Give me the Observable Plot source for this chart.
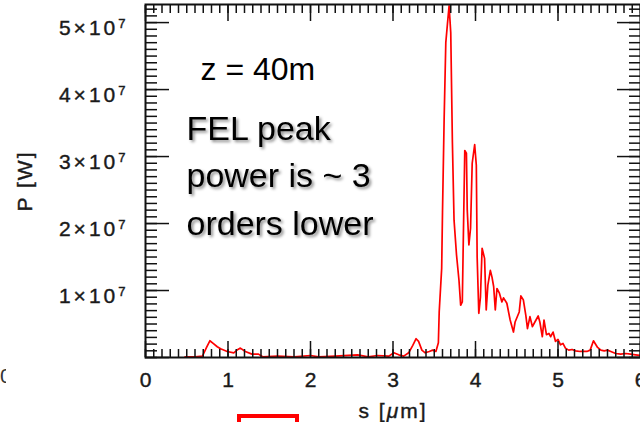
<!DOCTYPE html>
<html><head><meta charset="utf-8">
<script src="https://cdn.jsdelivr.net/npm/d3@7"></script>
<script src="https://cdn.jsdelivr.net/npm/@observablehq/plot@0.6"></script>
<style>
body{margin:0;background:#fff;}
#wrap{position:relative;width:640px;height:422px;overflow:hidden;font-family:"Liberation Sans",Arial,sans-serif;}
.redbox{position:absolute;left:237px;top:414px;width:54px;height:20px;border:4px solid #f00;}
.stray{position:absolute;left:0;top:364px;width:6px;overflow:hidden;font-size:21px;color:#333;}
</style></head><body><div id="wrap"><div class="stray">0</div><div class="redbox"></div></div>
<script>
// s [um]
const sVals = [0.48,0.60,0.69,0.74,0.78,0.82,0.87,0.91,0.99,1.07,1.12,1.15,1.21,1.29,1.37,1.42,1.60,1.80,2.00,2.10,2.30,2.57,2.70,2.81,2.95,3.01,3.07,3.13,3.19,3.24,3.28,3.31,3.35,3.39,3.44,3.48,3.52,3.55,3.56,3.59,3.60,3.62,3.64,3.66,3.68,3.70,3.72,3.74,3.77,3.80,3.82,3.84,3.87,3.89,3.90,3.92,3.94,3.96,3.99,4.01,4.02,4.04,4.06,4.08,4.11,4.13,4.15,4.18,4.20,4.22,4.24,4.26,4.29,4.32,4.34,4.38,4.42,4.46,4.48,4.53,4.55,4.58,4.61,4.63,4.66,4.69,4.72,4.76,4.78,4.81,4.83,4.86,4.89,4.91,4.94,4.97,5.00,5.03,5.06,5.09,5.13,5.17,5.21,5.27,5.35,5.39,5.43,5.45,5.48,5.52,5.56,5.60,5.64,5.70,5.76,5.82,5.88,5.94,6.00];
// P in units of 1e7 W
const pVals = [0.01,0.01,0.02,0.15,0.25,0.21,0.16,0.13,0.09,0.07,0.12,0.14,0.09,0.05,0.05,0.01,0.02,0.01,0.03,0.01,0.02,0.04,0.01,0.03,0.02,0.07,0.04,0.02,0.07,0.18,0.28,0.24,0.11,0.07,0.09,0.11,0.09,0.22,0.68,1.33,2.17,3.57,4.70,4.98,5.25,4.85,3.21,2.05,1.53,1.15,0.78,0.83,3.09,3.05,2.20,1.68,1.93,2.90,3.18,2.87,1.50,0.66,0.90,1.63,1.48,0.71,1.08,1.30,1.20,1.06,0.71,1.03,0.96,0.83,0.89,0.81,0.56,0.38,0.53,0.68,0.92,0.86,0.63,0.43,0.61,0.46,0.53,0.62,0.53,0.31,0.56,0.34,0.36,0.31,0.38,0.24,0.27,0.19,0.21,0.14,0.11,0.12,0.10,0.09,0.09,0.11,0.25,0.21,0.15,0.11,0.10,0.11,0.09,0.06,0.05,0.06,0.05,0.04,0.03];
const xMajor = [0,1,2,3,4,5,6];
const yMajor = [0,1e7,2e7,3e7,4e7,5e7];
const yLabelled = [1e7,2e7,3e7,4e7,5e7];
const xMinor = d3.range(0, 61).map(i => i/10);
const yMinor = d3.range(0, 53).map(i => i*1e6);
const xTitle = "s [μm]";
const yTitle = "P [W]";
const note1 = ["z = 40m"];
const note2 = ["FEL peak\npower is ~ 3\norders lower"];

const data = sVals.map((s,i) => ({s, p: pVals[i]*1e7}));
const tickStyle = {strokeWidth: 1.5, stroke: "#111"};
const noText = () => "";

const chart = Plot.plot({
  width: 640, height: 422,
  marginLeft: 145, marginRight: 0, marginTop: 4, marginBottom: 65,
  style: {fontFamily: "'Liberation Sans', Arial, sans-serif", fontSize: "21px", color: "#1a1a1a", background: "transparent"},
  x: {domain: [0, 6], label: null},
  y: {domain: [0, 5.27e7], label: null},
  marks: [
    Plot.line(data, {x: "s", y: "p", stroke: "#ff0000", strokeWidth: 1.7, clip: true}),
    // minor ticks
    Plot.axisX(xMinor, {anchor: "bottom", tickSize: -8, tickFormat: noText, label: null, ...tickStyle}),
    Plot.axisX(xMinor, {anchor: "top", tickSize: -8, tickFormat: noText, label: null, ...tickStyle}),
    Plot.axisY(yMinor, {anchor: "left", tickSize: -12, tickFormat: noText, label: null, ...tickStyle}),
    Plot.axisY(yMinor, {anchor: "right", tickSize: -12, tickFormat: noText, label: null, ...tickStyle}),
    // major ticks
    Plot.axisX(xMajor, {anchor: "top", tickSize: -16, tickFormat: noText, label: null, ...tickStyle}),
    Plot.axisX(xMajor, {anchor: "bottom", tickSize: -16, tickPadding: 31, label: xTitle, labelAnchor: "center", labelOffset: 60, ...tickStyle}),
    Plot.axisY(yMajor, {anchor: "right", tickSize: -24, tickFormat: noText, label: null, ...tickStyle}),
    Plot.axisY(yMajor, {anchor: "left", tickSize: -24, tickFormat: noText, label: null, ...tickStyle}),
    Plot.axisY(yLabelled, {anchor: "left", tickSize: 0, tickPadding: 17, dy: 6,
      tickFormat: d => `${d/1e7}×10^7`, label: yTitle, labelAnchor: "center", labelOffset: 128}),
    Plot.frame({stroke: "#111", strokeWidth: 2}),
    Plot.text(note1, {frameAnchor: "top-left", dx: 55, dy: 53, textAnchor: "start", lineAnchor: "top", fontSize: 32, fill: "#000"}),
    Plot.text(note2, {frameAnchor: "top-left", dx: 41, dy: 101, textAnchor: "start", lineAnchor: "top", fontSize: 34, lineHeight: 1.41, fill: "#000"})
  ]
});
document.getElementById("wrap").prepend(chart);
const svg = d3.select(chart);

// slightly heavier axis lettering, as in the reference
svg.selectAll('g[aria-label="x-axis tick label"] text, g[aria-label="y-axis tick label"] text')
  .style("stroke", "#1a1a1a").style("stroke-width", "0.4px");

// superscript exponents on y tick labels
svg.selectAll('g[aria-label="y-axis tick label"] text').each(function() {
  const el = d3.select(this);
  const m = el.text().split("^");
  if (m.length === 2) {
    el.text(m[0]).style("letter-spacing", "3px");
    el.append("tspan").attr("dy", "-0.55em").attr("font-size", "0.62em").text(m[1]);
  }
});
// axis titles: drop arrows, italic mu, spacing
svg.selectAll('g[aria-label="x-axis label"] text, g[aria-label="y-axis label"] text').each(function() {
  const el = d3.select(this);
  const t = el.text().replace(/\s*[→↑←↓]\s*/g, "");
  el.style("letter-spacing", "2px").style("font-size", "21px")
    .style("stroke", "#1a1a1a").style("stroke-width", "0.4px");
  if (t.includes("μ")) {
    const [a, b] = t.split("μ");
    el.text(a);
    el.append("tspan").attr("font-style", "italic").text("μ");
    el.append("tspan").text(b);
  } else {
    el.text(t);
  }
});
// soft shadow on the multi-line note
const notes = svg.selectAll('g[aria-label="text"]').nodes();
if (notes.length > 1) d3.select(notes[notes.length - 1]).style("filter", "drop-shadow(2px 2px 1.5px rgba(0,0,0,0.45))");
</script>
</body></html>
